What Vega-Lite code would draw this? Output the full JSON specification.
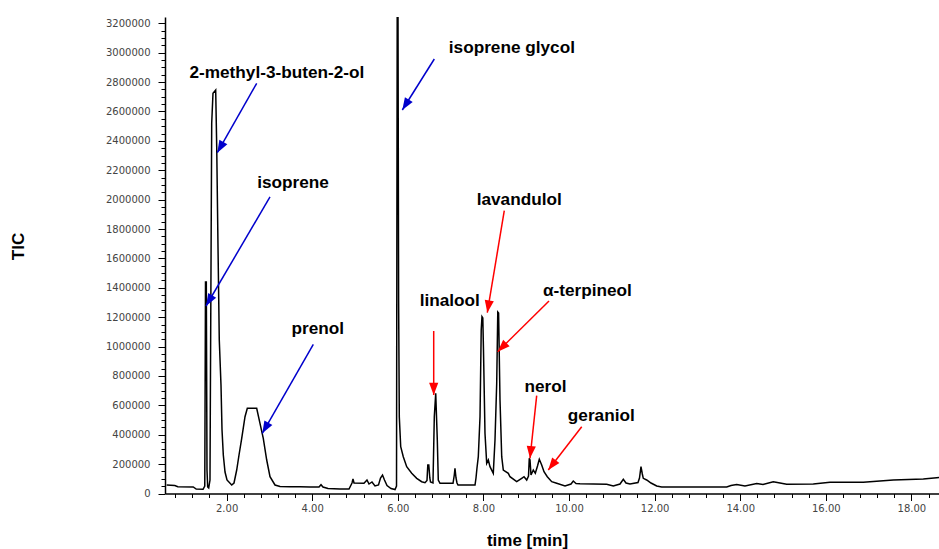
{
  "$schema": "https://vega.github.io/schema/vega-lite/v6.json",
  "width": 774,
  "height": 476.5,
  "autosize": {"type": "none"},
  "padding": {"left": 165, "top": 17, "right": 0, "bottom": 55.5},
  "background": "white",
  "config": {"view": {"stroke": null}},
  "datasets": {
    "tic": [
      {"time": 0.60, "tic": 57850}, {"time": 0.79, "tic": 54450}, {"time": 0.86, "tic": 46280},
      {"time": 1.22, "tic": 44240}, {"time": 1.29, "tic": 30630}, {"time": 1.45, "tic": 28590},
      {"time": 1.49, "tic": 51050}, {"time": 1.507, "tic": 1439500}, {"time": 1.526, "tic": 1439500},
      {"time": 1.542, "tic": 159900}, {"time": 1.558, "tic": 44240}, {"time": 1.582, "tic": 37430},
      {"time": 1.612, "tic": 91880}, {"time": 1.619, "tic": 545800}, {"time": 1.636, "tic": 1566700},
      {"time": 1.652, "tic": 2519600}, {"time": 1.682, "tic": 2723800}, {"time": 1.745, "tic": 2746200},
      {"time": 1.769, "tic": 2360300}, {"time": 1.799, "tic": 1679700}, {"time": 1.829, "tic": 1044700},
      {"time": 1.869, "tic": 738500}, {"time": 1.893, "tic": 432200}, {"time": 1.923, "tic": 262000},
      {"time": 1.963, "tic": 146300}, {"time": 2.009, "tic": 91880}, {"time": 2.119, "tic": 57850},
      {"time": 2.173, "tic": 71460}, {"time": 2.236, "tic": 159900}, {"time": 2.290, "tic": 262000},
      {"time": 2.353, "tic": 375600}, {"time": 2.430, "tic": 522700}, {"time": 2.484, "tic": 579900},
      {"time": 2.703, "tic": 579900}, {"time": 2.780, "tic": 477800}, {"time": 2.857, "tic": 375700},
      {"time": 2.937, "tic": 228000}, {"time": 3.014, "tic": 114300}, {"time": 3.131, "tic": 57850},
      {"time": 3.248, "tic": 47640}, {"time": 3.481, "tic": 46280}, {"time": 3.715, "tic": 46280},
      {"time": 3.949, "tic": 44240}, {"time": 4.159, "tic": 44240}, {"time": 4.206, "tic": 59890},
      {"time": 4.252, "tic": 44240}, {"time": 4.369, "tic": 34030}, {"time": 4.650, "tic": 30630},
      {"time": 4.860, "tic": 30630}, {"time": 4.930, "tic": 71460}, {"time": 4.953, "tic": 98690},
      {"time": 4.977, "tic": 71460}, {"time": 5.210, "tic": 69420}, {"time": 5.280, "tic": 91880},
      {"time": 5.327, "tic": 64660}, {"time": 5.397, "tic": 78270}, {"time": 5.467, "tic": 51050},
      {"time": 5.549, "tic": 57850}, {"time": 5.596, "tic": 105500}, {"time": 5.643, "tic": 125900},
      {"time": 5.689, "tic": 91880}, {"time": 5.748, "tic": 54450}, {"time": 5.841, "tic": 34030},
      {"time": 5.935, "tic": 27220}, {"time": 5.970, "tic": 51050}, {"time": 5.986, "tic": 3243000},
      {"time": 6.005, "tic": 3243000}, {"time": 6.019, "tic": 1317000}, {"time": 6.035, "tic": 522700},
      {"time": 6.068, "tic": 318500}, {"time": 6.128, "tic": 250500}, {"time": 6.208, "tic": 182400},
      {"time": 6.325, "tic": 137500}, {"time": 6.442, "tic": 103400}, {"time": 6.558, "tic": 80310},
      {"time": 6.636, "tic": 73500}, {"time": 6.682, "tic": 88480}, {"time": 6.701, "tic": 194000},
      {"time": 6.724, "tic": 194000}, {"time": 6.748, "tic": 105500}, {"time": 6.764, "tic": 78270},
      {"time": 6.822, "tic": 71460}, {"time": 6.853, "tic": 522700}, {"time": 6.886, "tic": 682000},
      {"time": 6.923, "tic": 364100}, {"time": 6.946, "tic": 91880}, {"time": 6.986, "tic": 69420},
      {"time": 7.290, "tic": 69420}, {"time": 7.320, "tic": 125900}, {"time": 7.336, "tic": 170800},
      {"time": 7.360, "tic": 105500}, {"time": 7.383, "tic": 71460}, {"time": 7.407, "tic": 57850},
      {"time": 7.804, "tic": 57850}, {"time": 7.827, "tic": 105500}, {"time": 7.850, "tic": 173600},
      {"time": 7.881, "tic": 250500}, {"time": 7.921, "tic": 522700}, {"time": 7.949, "tic": 1112800},
      {"time": 7.967, "tic": 1203300}, {"time": 7.986, "tic": 1194400}, {"time": 8.002, "tic": 976700},
      {"time": 8.037, "tic": 409700}, {"time": 8.077, "tic": 205500}, {"time": 8.115, "tic": 228000},
      {"time": 8.154, "tic": 182400}, {"time": 8.231, "tic": 137500}, {"time": 8.271, "tic": 364100},
      {"time": 8.311, "tic": 750000}, {"time": 8.336, "tic": 1235300}, {"time": 8.355, "tic": 1228500},
      {"time": 8.388, "tic": 636400}, {"time": 8.428, "tic": 250500}, {"time": 8.465, "tic": 159900},
      {"time": 8.582, "tic": 137500}, {"time": 8.621, "tic": 114300}, {"time": 8.778, "tic": 80310},
      {"time": 8.895, "tic": 103400}, {"time": 8.949, "tic": 114300}, {"time": 9.012, "tic": 91880},
      {"time": 9.054, "tic": 119100}, {"time": 9.072, "tic": 239600}, {"time": 9.089, "tic": 228000},
      {"time": 9.112, "tic": 125900}, {"time": 9.166, "tic": 159900}, {"time": 9.213, "tic": 137500},
      {"time": 9.264, "tic": 187200}, {"time": 9.306, "tic": 232800}, {"time": 9.362, "tic": 194000},
      {"time": 9.416, "tic": 148400}, {"time": 9.493, "tic": 114300}, {"time": 9.596, "tic": 80310},
      {"time": 9.713, "tic": 69420}, {"time": 9.907, "tic": 51050}, {"time": 10.047, "tic": 64660},
      {"time": 10.100, "tic": 85080}, {"time": 10.164, "tic": 68060}, {"time": 10.257, "tic": 66700},
      {"time": 10.881, "tic": 62620}, {"time": 11.035, "tic": 51050}, {"time": 11.192, "tic": 64660},
      {"time": 11.269, "tic": 96650}, {"time": 11.332, "tic": 71460}, {"time": 11.425, "tic": 64660},
      {"time": 11.612, "tic": 74870}, {"time": 11.647, "tic": 105500}, {"time": 11.682, "tic": 182400},
      {"time": 11.713, "tic": 132700}, {"time": 11.736, "tic": 103400}, {"time": 11.815, "tic": 91880},
      {"time": 11.916, "tic": 71460}, {"time": 12.049, "tic": 51050}, {"time": 12.166, "tic": 44240},
      {"time": 13.685, "tic": 44240}, {"time": 13.785, "tic": 54450}, {"time": 13.918, "tic": 61250},
      {"time": 14.112, "tic": 51050}, {"time": 14.386, "tic": 68060}, {"time": 14.533, "tic": 61250},
      {"time": 14.773, "tic": 80310}, {"time": 14.930, "tic": 71460}, {"time": 15.086, "tic": 62620},
      {"time": 15.708, "tic": 64660}, {"time": 16.098, "tic": 76230}, {"time": 16.876, "tic": 76230},
      {"time": 17.577, "tic": 91880}, {"time": 18.278, "tic": 98690}, {"time": 18.591, "tic": 107500},
      {"time": 18.645, "tic": 108900}
    ],
    "arrows": [
      {"compound": "2-methyl-3-buten-2-ol", "kind": "C5", "time0": 2.703, "tic0": 2791800, "time": 1.783, "tic": 2319500},
      {"compound": "isoprene", "kind": "C5", "time0": 3.014, "tic0": 2018000, "time": 1.519, "tic": 1276100},
      {"compound": "prenol", "kind": "C5", "time0": 4.026, "tic0": 1015500, "time": 2.834, "tic": 409700},
      {"compound": "isoprene glycol", "kind": "C5", "time0": 6.853, "tic0": 2957200, "time": 6.105, "tic": 2610100},
      {"compound": "lavandulol", "kind": "C10", "time0": 8.488, "tic0": 1924700, "time": 8.091, "tic": 1230500},
      {"compound": "linalool", "kind": "C10", "time0": 6.839, "tic0": 1106000, "time": 6.839, "tic": 670400},
      {"compound": "α-terpineol", "kind": "C10", "time0": 9.533, "tic0": 1310200, "time": 8.334, "tic": 965100},
      {"compound": "nerol", "kind": "C10", "time0": 9.245, "tic0": 665600, "time": 9.089, "tic": 239600},
      {"compound": "geraniol", "kind": "C10", "time0": 10.297, "tic0": 454600, "time": 9.516, "tic": 159900}
    ],
    "labels": [
      {"name": "2-methyl-3-buten-2-ol", "time": 3.174, "tic": 2861900},
      {"name": "isoprene", "time": 3.551, "tic": 2109900},
      {"name": "prenol", "time": 4.131, "tic": 1119600},
      {"name": "isoprene glycol", "time": 8.665, "tic": 3032100},
      {"name": "lavandulol", "time": 8.836, "tic": 1997600},
      {"name": "linalool", "time": 7.213, "tic": 1312200},
      {"name": "α-terpineol", "time": 10.431, "tic": 1380300},
      {"name": "nerol", "time": 9.451, "tic": 726900},
      {"name": "geraniol", "time": 10.754, "tic": 527500}
    ]
  },
  "encoding": {
    "x": {
      "field": "time",
      "type": "quantitative",
      "scale": {"domain": [0.5607, 18.645], "nice": false, "zero": false},
      "axis": {
        "title": "time [min]",
        "values": [0.8, 1.2, 1.6, 2, 2.4, 2.8, 3.2, 3.6, 4, 4.4, 4.8, 5.2, 5.6, 6, 6.4, 6.8, 7.2, 7.6, 8, 8.4, 8.8, 9.2, 9.6, 10, 10.4, 10.8, 11.2, 11.6, 12, 12.4, 12.8, 13.2, 13.6, 14, 14.4, 14.8, 15.2, 15.6, 16, 16.4, 16.8, 17.2, 17.6, 18, 18.4],
        "labelExpr": "datum.value % 2 === 0 ? format(datum.value, '.2f') : ''",
        "labelOverlap": false,
        "labelFlush": false,
        "tickSize": {"condition": {"test": "datum.value % 2 === 0", "value": 7}, "value": 4},
        "tickColor": "black",
        "tickWidth": 1,
        "domainColor": "black",
        "domainWidth": 1.5,
        "grid": false,
        "labelFont": "DejaVu Sans",
        "labelFontSize": 10,
        "labelColor": "#444444",
        "labelPadding": 3,
        "titleFont": "Liberation Sans",
        "titleFontSize": 17,
        "titleFontWeight": "bold",
        "titleColor": "black",
        "titleX": 362,
        "titleY": 46.5,
        "titleAlign": "center",
        "titleBaseline": "middle"
      }
    },
    "y": {
      "field": "tic",
      "type": "quantitative",
      "scale": {"domain": [0, 3243000], "nice": false},
      "axis": {
        "title": "TIC",
        "values": [0, 50000, 100000, 150000, 200000, 250000, 300000, 350000, 400000, 450000, 500000, 550000, 600000, 650000, 700000, 750000, 800000, 850000, 900000, 950000, 1000000, 1050000, 1100000, 1150000, 1200000, 1250000, 1300000, 1350000, 1400000, 1450000, 1500000, 1550000, 1600000, 1650000, 1700000, 1750000, 1800000, 1850000, 1900000, 1950000, 2000000, 2050000, 2100000, 2150000, 2200000, 2250000, 2300000, 2350000, 2400000, 2450000, 2500000, 2550000, 2600000, 2650000, 2700000, 2750000, 2800000, 2850000, 2900000, 2950000, 3000000, 3050000, 3100000, 3150000, 3200000],
        "labelExpr": "datum.value % 200000 === 0 ? format(datum.value, 'd') : ''",
        "labelOverlap": false,
        "labelFlush": false,
        "tickSize": {"condition": {"test": "datum.value % 200000 === 0", "value": 7}, "value": 4},
        "tickColor": "black",
        "tickWidth": 1,
        "domainColor": "black",
        "domainWidth": 1.5,
        "grid": false,
        "labelFont": "DejaVu Sans",
        "labelFontSize": 10,
        "labelColor": "#444444",
        "labelPadding": 8,
        "titleFont": "Liberation Sans",
        "titleFontSize": 17,
        "titleFontWeight": "bold",
        "titleColor": "black",
        "titleAngle": 270,
        "titleX": -146.5,
        "titleY": 229,
        "titleAlign": "center",
        "titleBaseline": "middle"
      }
    }
  },
  "layer": [
    {
      "data": {"name": "tic"},
      "mark": {"type": "line", "color": "black", "strokeWidth": 1.5, "clip": true}
    },
    {
      "data": {"name": "arrows"},
      "mark": {"type": "rule", "strokeWidth": 1.5},
      "encoding": {
        "x2": {"field": "time0"},
        "y2": {"field": "tic0"},
        "color": {"field": "kind", "type": "nominal", "scale": {"domain": ["C5", "C10"], "range": ["#0000cc", "#ff0000"]}, "legend": null}
      }
    },
    {
      "data": {"name": "arrows"},
      "transform": [
        {"calculate": "atan2((datum.time - datum.time0) * 42.8, (datum.tic - datum.tic0) / 6806) * 180 / PI", "as": "heading"}
      ],
      "mark": {"type": "point", "shape": "M0,0L-0.75,2L0.75,2Z", "filled": true, "size": 150, "opacity": 1, "strokeWidth": 0},
      "encoding": {
        "angle": {"field": "heading", "type": "quantitative", "scale": null},
        "color": {"field": "kind", "type": "nominal", "scale": {"domain": ["C5", "C10"], "range": ["#0000cc", "#ff0000"]}, "legend": null}
      }
    },
    {
      "data": {"name": "labels"},
      "mark": {"type": "text", "font": "Liberation Sans", "fontWeight": "bold", "fontSize": 17.2, "color": "black", "align": "center", "baseline": "middle"},
      "encoding": {"text": {"field": "name", "type": "nominal"}}
    }
  ]
}
